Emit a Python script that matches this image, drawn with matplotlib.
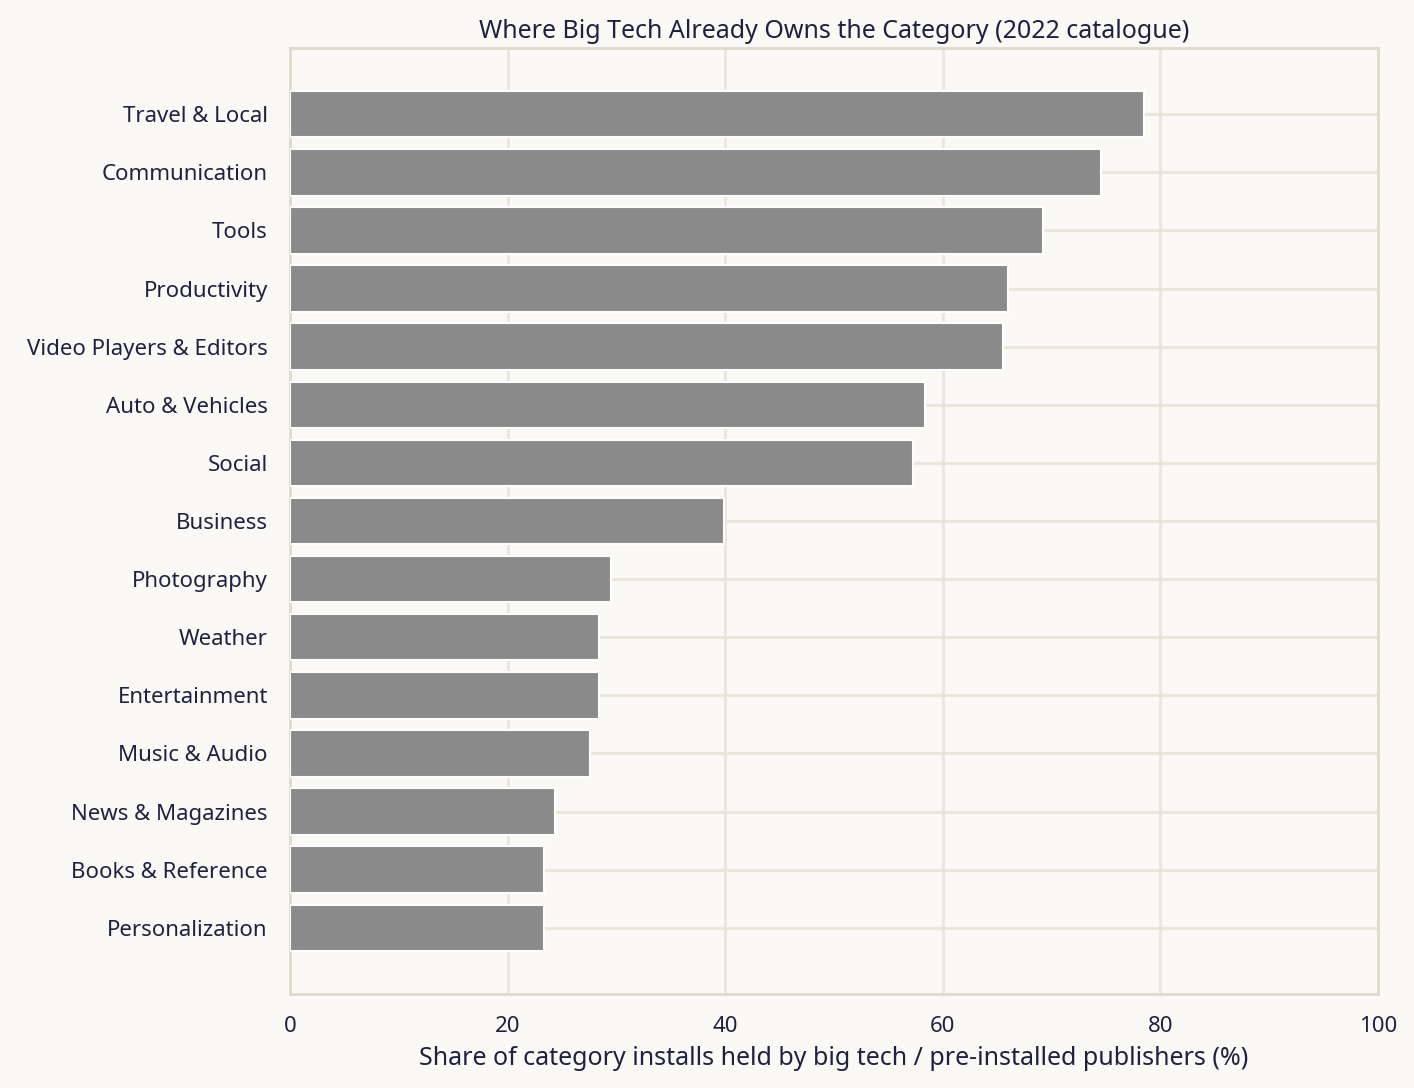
import matplotlib
matplotlib.use("Agg")
from matplotlib import pyplot as plt

categories = ["Travel & Local", "Communication", "Tools", "Productivity",
              "Video Players & Editors", "Auto & Vehicles", "Social", "Business",
              "Photography", "Weather", "Entertainment", "Music & Audio",
              "News & Magazines", "Books & Reference", "Personalization"]
shares = [78.5, 74.5, 69.2, 66.0, 65.5, 58.4, 57.3, 39.9,
          29.5, 28.4, 28.4, 27.6, 24.4, 23.3, 23.3]
xticks = [0, 20, 40, 60, 80, 100]

bg = "#faf9f5"
ink = "#1f2140"
grid_col = "#e9e5db"
spine_col = "#dfdacd"

plt.rcParams["font.family"] = ["Noto Sans", "DejaVu Sans"]

fig = plt.figure(figsize=(14.14, 10.88), dpi=100, facecolor=bg)
ax = fig.add_axes([290 / 1414, 1 - 994 / 1088, 1088 / 1414, 946 / 1088])
ax.set_facecolor(bg)

ax.barh(range(len(categories)), shares, height=0.8, color="#8a8a8a",
        edgecolor="white", linewidth=1.5, zorder=3)

ax.set_yticks(range(len(categories)))
ax.set_yticklabels(categories)
ax.invert_yaxis()
ax.set_xlim(0, 100)
ax.set_xticks(xticks)

ax.grid(True, color=grid_col, linewidth=2, zorder=0)
ax.set_axisbelow(True)
for s in ax.spines.values():
    s.set_color(spine_col)
    s.set_linewidth(2)
ax.tick_params(length=0, labelsize=16, colors=ink)
ax.tick_params(axis="x", pad=16)
ax.tick_params(axis="y", pad=16)

ax.set_xlabel("Share of category installs held by big tech / pre-installed publishers (%)",
              fontsize=18, color=ink, labelpad=6)
ax.set_title("Where Big Tech Already Owns the Category (2022 catalogue)",
             fontsize=18, color=ink, pad=7)

fig.savefig("out.png", dpi=100, facecolor=bg)
